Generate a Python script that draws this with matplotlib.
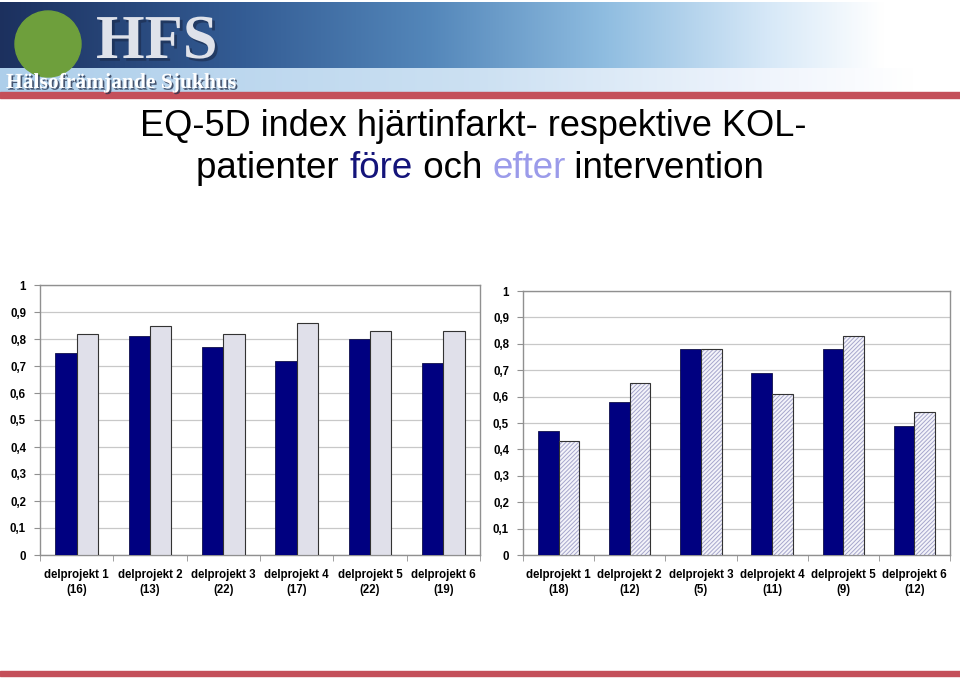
import matplotlib.pyplot as plt
import matplotlib.patheffects as pe
import numpy as np
from matplotlib.patches import Circle, Rectangle

# data
kategorier_hjarta = ['delprojekt 1\n(16)', 'delprojekt 2\n(13)', 'delprojekt 3\n(22)',
                     'delprojekt 4\n(17)', 'delprojekt 5\n(22)', 'delprojekt 6\n(19)']
hjarta_fore = [0.75, 0.81, 0.77, 0.72, 0.80, 0.71]
hjarta_efter = [0.82, 0.85, 0.82, 0.86, 0.83, 0.83]

kategorier_kol = ['delprojekt 1\n(18)', 'delprojekt 2\n(12)', 'delprojekt 3\n(5)',
                  'delprojekt 4\n(11)', 'delprojekt 5\n(9)', 'delprojekt 6\n(12)']
kol_fore = [0.47, 0.58, 0.78, 0.69, 0.78, 0.49]
kol_efter = [0.43, 0.65, 0.78, 0.61, 0.83, 0.54]

y_ticks = [0, 0.1, 0.2, 0.3, 0.4, 0.5, 0.6, 0.7, 0.8, 0.9, 1]
y_labels = ['0', '0,1', '0,2', '0,3', '0,4', '0,5', '0,6', '0,7', '0,8', '0,9', '1']

plt.rcParams['font.family'] = ['Liberation Sans', 'DejaVu Sans']
W, H = 960, 679
fig = plt.figure(figsize=(9.6, 6.79), dpi=100)


def px(x, y, w, h):
    # pixel box (top-left origin) -> figure fraction
    return [x / W, 1 - (y + h) / H, w / W, h / H]


def gradient(stops):
    stops = np.array(stops)
    t = np.linspace(0, 1, 500)
    return np.stack([np.interp(t, stops[:, 0], stops[:, i]) for i in (1, 2, 3)], axis=-1)[None, :, :]


# --- banner ---
ban = fig.add_axes(px(0, 0, W, 100))
ban.set_xlim(0, W)
ban.set_ylim(100, 0)
ban.axis('off')
ban.imshow(gradient([[0.0, 0.11, 0.19, 0.37], [0.25, 0.20, 0.36, 0.58], [0.45, 0.33, 0.53, 0.73],
                     [0.63, 0.56, 0.74, 0.88], [0.80, 0.84, 0.91, 0.97], [0.92, 1, 1, 1],
                     [1.0, 1, 1, 1]]),
           extent=[0, W, 68, 2], aspect='auto')
ban.imshow(gradient([[0.0, 0.68, 0.81, 0.92], [0.5, 0.80, 0.88, 0.95], [0.8, 0.94, 0.96, 0.99],
                     [0.95, 1, 1, 1], [1.0, 1, 1, 1]]),
           extent=[0, W, 92, 68], aspect='auto')
ban.add_patch(Rectangle((0, 92), W, 6, color='#c4505a'))
ban.add_patch(Circle((48, 44), 33, color='#6e9f3c'))
ban.text(96, 58, 'HFS', family='Liberation Serif', fontweight='bold', fontsize=45,
         color='#dfe2ea', va='baseline',
         path_effects=[pe.withSimplePatchShadow(offset=(2, -2), shadow_rgbFace='#1a2a4a', alpha=0.6)])
ban.text(6, 88, 'Hälsofrämjande Sjukhus', family='Liberation Serif', fontweight='bold',
         fontsize=15.5, color='white', va='baseline',
         path_effects=[pe.withSimplePatchShadow(offset=(1.2, -1.2), shadow_rgbFace='#2a3550', alpha=0.8)])

# bottom red line
fig.patches.append(Rectangle((0, 1 - 676 / H), 1, 5 / H, transform=fig.transFigure,
                             color='#c4505a'))

# --- title ---
fig.text(473 / W, 1 - 127 / H, 'EQ-5D index hjärtinfarkt- respektive KOL-', fontsize=26,
         ha='center', va='center')

delar = [('patienter ', 'black'), ('före', '#14147a'), (' och ', 'black'),
         ('efter', '#9b9bea'), (' intervention', 'black')]
renderer = fig.canvas.get_renderer()


def bredd(s):
    tt = fig.text(0, 0, s + '.', fontsize=26.5)
    w1 = tt.get_window_extent(renderer).width
    tt.remove()
    tt = fig.text(0, 0, '.', fontsize=26.5)
    w2 = tt.get_window_extent(renderer).width
    tt.remove()
    return w1 - w2


total = bredd(''.join(d[0] for d in delar))
x0 = 481 - total / 2
for s, c in delar:
    fig.text(x0 / W, 1 - 168 / H, s, fontsize=26.5, color=c, va='center', ha='left')
    x0 += bredd(s)


def rita(ax, kat, fore, efter, hatched):
    x = np.arange(len(kat))
    bw = 0.29
    ax.bar(x - bw / 2, fore, bw, color='#000080', edgecolor='#10104a', linewidth=0.6, zorder=3)
    if hatched:
        plt.rcParams['hatch.color'] = '#a6a6cc'
        plt.rcParams['hatch.linewidth'] = 0.7
        ax.bar(x + bw / 2, efter, bw, color='#f4f4fa', hatch='////////', edgecolor='#a6a6cc',
               linewidth=0, zorder=3)
        ax.bar(x + bw / 2, efter, bw, fill=False, edgecolor='#333333', linewidth=0.8, zorder=4)
    else:
        ax.bar(x + bw / 2, efter, bw, color='#e0e0ea', edgecolor='#333333', linewidth=0.8, zorder=3)
    ax.set_xlim(-0.5, len(kat) - 0.5)
    ax.set_ylim(0, 1)
    ax.set_yticks(y_ticks)
    ax.set_yticklabels(y_labels, fontweight='bold', fontsize=8.3)
    ax.set_xticks(x)
    ax.set_xticklabels(kat, fontweight='bold', fontsize=8.3, linespacing=1.35)
    ax.set_xticks(np.arange(len(kat) + 1) - 0.5, minor=True)
    ax.tick_params(axis='x', which='major', length=0, pad=10)
    ax.tick_params(axis='x', which='minor', length=4, color='#909090')
    ax.tick_params(axis='y', length=4, color='#909090', pad=6)
    ax.grid(axis='y', color='#c8c8c8', linewidth=0.9, zorder=0)
    for sp in ax.spines.values():
        sp.set_color('#909090')
        sp.set_linewidth(1)


ax1 = fig.add_axes(px(40, 285, 440, 270))
rita(ax1, kategorier_hjarta, hjarta_fore, hjarta_efter, False)
ax2 = fig.add_axes(px(523, 291, 427, 264))
rita(ax2, kategorier_kol, kol_fore, kol_efter, True)

fig.savefig('out.png', dpi=100)
